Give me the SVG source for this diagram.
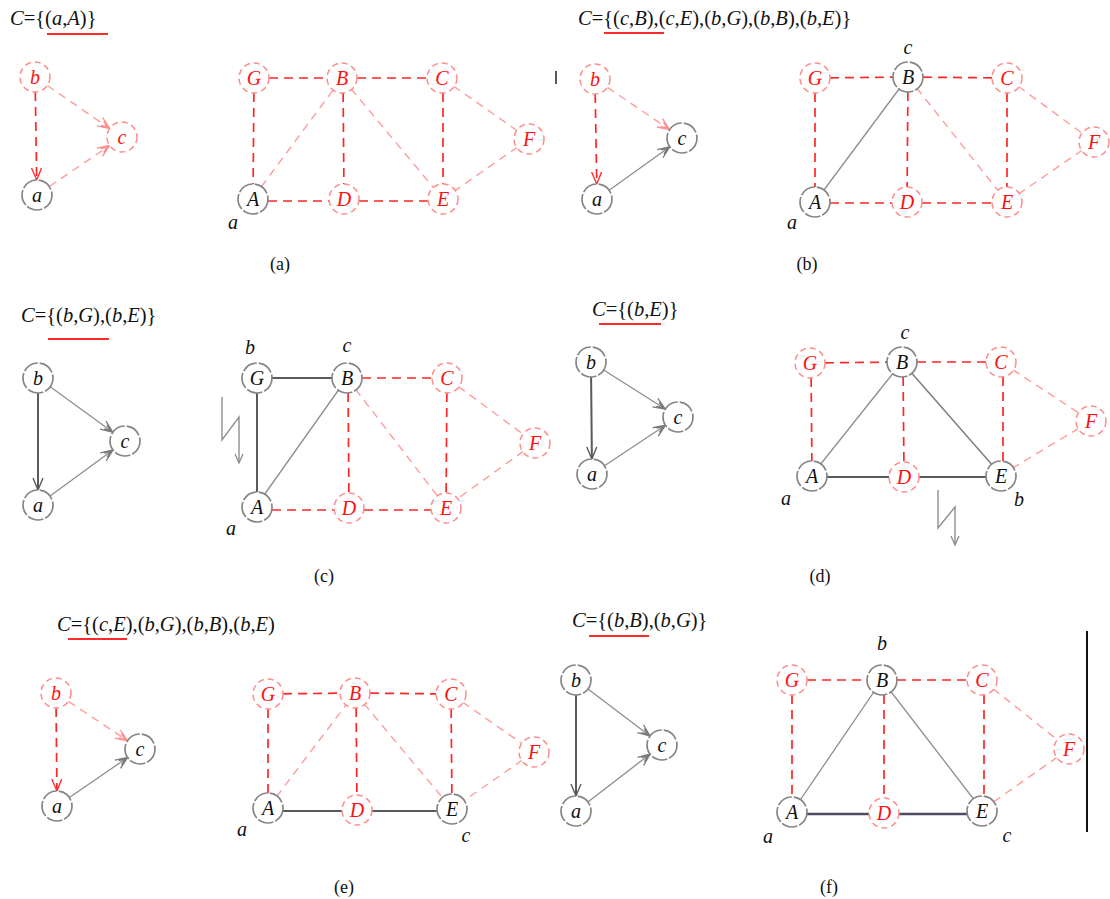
<svg xmlns="http://www.w3.org/2000/svg" width="1110" height="899" viewBox="0 0 1110 899" font-family="'Liberation Serif', 'Times New Roman', serif">
<defs>
<style>
text{font-family:"Liberation Serif","Times New Roman",serif;}
.t{font-size:20.5px;fill:#111;}
.i{font-style:italic;}
.cap{font-size:18px;fill:#111;text-anchor:middle;}
.lb{font-size:20px;font-style:italic;fill:#111;text-anchor:middle;}
.nk circle{fill:#fff;stroke:#858585;stroke-width:1.7;stroke-dasharray:16 2;}
.nk text{font-size:20px;font-style:italic;fill:#111;text-anchor:middle;}
.nr circle{fill:#fff;stroke:#ff8c8c;stroke-width:1.5;stroke-dasharray:6 4;}
.nr text{font-size:20px;font-style:italic;fill:#ff1010;text-anchor:middle;}
.ul{stroke:#ff2a2a;stroke-width:2;}
.er{stroke:#ff2626;stroke-width:1.7;stroke-dasharray:9 6;fill:none;}
.ep{stroke:#ff9c9c;stroke-width:1.4;stroke-dasharray:8 6;fill:none;}
.eg{stroke:#8e8e8e;stroke-width:1.3;fill:none;}
.ed{stroke:#5a5a5a;stroke-width:2;fill:none;}
.en{stroke:#4c4c62;stroke-width:2.6;fill:none;}
.zig{stroke:#8e8e8e;stroke-width:1.4;fill:none;}
</style>
<marker id="mg" markerUnits="userSpaceOnUse" markerWidth="16" markerHeight="12" refX="13" refY="6" orient="auto" overflow="visible">
<path d="M1,1 L13,6 L1,11 M4,3.5 L10,6 L4,8.5" fill="none" stroke="#7a7a7a" stroke-width="1.3"/>
</marker>
<marker id="mz" markerUnits="userSpaceOnUse" markerWidth="12" markerHeight="10" refX="10" refY="5" orient="auto" overflow="visible">
<path d="M1,1 L10,5 L1,9" fill="none" stroke="#8a8a8a" stroke-width="1.3"/>
</marker>
<marker id="md" markerUnits="userSpaceOnUse" markerWidth="16" markerHeight="12" refX="13" refY="6" orient="auto" overflow="visible">
<path d="M1,1 L13,6 L1,11" fill="none" stroke="#5a5a5a" stroke-width="1.4"/>
</marker>
<marker id="mr" markerUnits="userSpaceOnUse" markerWidth="16" markerHeight="12" refX="13" refY="6" orient="auto" overflow="visible">
<path d="M1,1 L13,6 L1,11" fill="none" stroke="#ff3030" stroke-width="1.4"/>
</marker>
<marker id="mp" markerUnits="userSpaceOnUse" markerWidth="16" markerHeight="12" refX="13" refY="6" orient="auto" overflow="visible">
<path d="M1,1 L13,6 L1,11 M4,3.5 L10,6 L4,8.5" fill="none" stroke="#ff8f8f" stroke-width="1.3"/>
</marker>
</defs>
<rect width="1110" height="899" fill="#fff"/>

<!-- Titles -->
<g id="titles">
<text class="t" x="10" y="25"><tspan class="i">C</tspan>={(<tspan class="i">a</tspan>,<tspan class="i">A</tspan>)}</text>
<text class="t" x="578" y="25"><tspan class="i">C</tspan>={(<tspan class="i">c</tspan>,<tspan class="i">B</tspan>),(<tspan class="i">c</tspan>,<tspan class="i">E</tspan>),(<tspan class="i">b</tspan>,<tspan class="i">G</tspan>),(<tspan class="i">b</tspan>,<tspan class="i">B</tspan>),(<tspan class="i">b</tspan>,<tspan class="i">E</tspan>)}</text>
<text class="t" x="21" y="322"><tspan class="i">C</tspan>={(<tspan class="i">b</tspan>,<tspan class="i">G</tspan>),(<tspan class="i">b</tspan>,<tspan class="i">E</tspan>)}</text>
<text class="t" x="592" y="316"><tspan class="i">C</tspan>={(<tspan class="i">b</tspan>,<tspan class="i">E</tspan>)}</text>
<text class="t" x="57" y="631"><tspan class="i">C</tspan>={(<tspan class="i">c</tspan>,<tspan class="i">E</tspan>),(<tspan class="i">b</tspan>,<tspan class="i">G</tspan>),(<tspan class="i">b</tspan>,<tspan class="i">B</tspan>),(<tspan class="i">b</tspan>,<tspan class="i">E</tspan>)</text>
<text class="t" x="572" y="627"><tspan class="i">C</tspan>={(<tspan class="i">b</tspan>,<tspan class="i">B</tspan>),(<tspan class="i">b</tspan>,<tspan class="i">G</tspan>)}</text>
<line class="ul" x1="47" y1="34" x2="108" y2="34"/>
<line class="ul" x1="604" y1="33" x2="664" y2="33"/>
<line class="ul" x1="48" y1="339" x2="109" y2="339"/>
<line class="ul" x1="599" y1="324" x2="661" y2="324"/>
<line class="ul" x1="68" y1="639" x2="127" y2="639"/>
<line class="ul" x1="589" y1="636" x2="649" y2="636"/>
</g>

<!-- Connectors -->
<g id="connectors">
<!-- (a) left -->
<line class="er" x1="35.3" y1="92" x2="36.7" y2="180" marker-end="url(#mr)"/>
<line class="ep" x1="47.3" y1="85.5" x2="109.7" y2="128.5" marker-end="url(#mp)"/>
<line class="ep" x1="49.4" y1="186.5" x2="109.6" y2="145.5" marker-end="url(#mp)"/>
<!-- (a) right -->
<line class="er" x1="254" y1="78" x2="342" y2="78"/>
<line class="er" x1="342" y1="78" x2="442" y2="78"/>
<line class="er" x1="254" y1="78" x2="253" y2="198"/>
<line class="er" x1="343" y1="78" x2="344" y2="198"/>
<line class="er" x1="443" y1="78" x2="443" y2="199"/>
<line class="er" x1="253" y1="201" x2="344" y2="201"/>
<line class="er" x1="344" y1="201" x2="443" y2="201"/>
<line class="ep" x1="253" y1="198" x2="342" y2="78"/>
<line class="ep" x1="342" y1="78" x2="443" y2="199"/>
<line class="ep" x1="442" y1="78" x2="529" y2="139"/>
<line class="ep" x1="529" y1="139" x2="443" y2="199"/>
<!-- (b) left -->
<line class="er" x1="595.2" y1="94" x2="596.8" y2="184" marker-end="url(#mr)"/>
<line class="ep" x1="607.4" y1="87.4" x2="669.6" y2="129.6" marker-end="url(#mp)"/>
<line class="eg" x1="609.2" y1="190.3" x2="669.8" y2="146.7" marker-end="url(#mg)"/>
<!-- (b) right -->
<line class="er" x1="815" y1="78" x2="908" y2="77"/>
<line class="er" x1="908" y1="77" x2="1007" y2="78"/>
<line class="er" x1="815" y1="78" x2="815" y2="202"/>
<line class="er" x1="908" y1="77" x2="907" y2="202"/>
<line class="er" x1="1007" y1="78" x2="1007" y2="202"/>
<line class="er" x1="815" y1="203" x2="907" y2="203"/>
<line class="er" x1="907" y1="203" x2="1007" y2="203"/>
<line class="eg" x1="815" y1="202" x2="908" y2="77"/>
<line class="ep" x1="908" y1="77" x2="1007" y2="202"/>
<line class="ep" x1="1007" y1="78" x2="1094" y2="142"/>
<line class="ep" x1="1094" y1="142" x2="1007" y2="202"/>
<!-- (c) left -->
<line class="ed" x1="38" y1="393" x2="38" y2="490" marker-end="url(#md)"/>
<line class="eg" x1="50.2" y1="386.8" x2="112.8" y2="432.2" marker-end="url(#mg)"/>
<line class="eg" x1="50.1" y1="496.1" x2="112.9" y2="449.9" marker-end="url(#mg)"/>
<!-- (c) right -->
<line class="ed" x1="257" y1="378" x2="347" y2="378"/>
<line class="ed" x1="257" y1="378" x2="257" y2="505"/>
<line class="eg" x1="257" y1="505" x2="347" y2="378"/>
<line class="er" x1="347" y1="378" x2="447" y2="378"/>
<line class="er" x1="348" y1="378" x2="349" y2="507"/>
<line class="er" x1="447" y1="378" x2="446" y2="507"/>
<line class="er" x1="257" y1="510" x2="349" y2="510"/>
<line class="er" x1="349" y1="510" x2="446" y2="510"/>
<line class="ep" x1="347" y1="378" x2="446" y2="507"/>
<line class="ep" x1="447" y1="378" x2="535" y2="443"/>
<line class="ep" x1="535" y1="443" x2="446" y2="507"/>
<polyline class="zig" points="222,397 222,440 239,417 239,463" marker-end="url(#mz)"/>
<!-- (d) left -->
<line class="ed" x1="591.1" y1="377" x2="591.9" y2="459" marker-end="url(#md)"/>
<line class="eg" x1="603.7" y1="370" x2="665.3" y2="409" marker-end="url(#mg)"/>
<line class="eg" x1="604.5" y1="465.7" x2="665.5" y2="425.3" marker-end="url(#mg)"/>
<!-- (d) right -->
<line class="er" x1="810" y1="363" x2="902" y2="362"/>
<line class="er" x1="902" y1="362" x2="1001" y2="362"/>
<line class="er" x1="811" y1="363" x2="812" y2="475"/>
<line class="er" x1="903" y1="362" x2="904" y2="476"/>
<line class="er" x1="1003" y1="362" x2="1003" y2="475"/>
<line class="eg" x1="812" y1="475" x2="902" y2="362"/>
<line class="eg" x1="902" y1="362" x2="1001" y2="475" style="stroke:#7e7e7e;stroke-width:1.5"/>
<line class="ed" x1="812" y1="477" x2="904" y2="477"/>
<line class="ed" x1="904" y1="477" x2="1001" y2="477"/>
<line class="ep" x1="1001" y1="362" x2="1091" y2="421"/>
<line class="ep" x1="1091" y1="421" x2="1001" y2="475"/>
<polyline class="zig" points="938,490 938,528 955,507 955,545" marker-end="url(#mz)"/>
<!-- (e) left -->
<line class="er" x1="56.1" y1="708" x2="56.9" y2="791" marker-end="url(#mr)"/>
<line class="ep" x1="68.5" y1="701.3" x2="127.5" y2="740.7" marker-end="url(#mp)"/>
<line class="eg" x1="69.4" y1="797.5" x2="127.6" y2="757.5" marker-end="url(#mg)"/>
<!-- (e) right -->
<line class="er" x1="268" y1="694" x2="355" y2="693"/>
<line class="er" x1="355" y1="693" x2="451" y2="694"/>
<line class="er" x1="268" y1="694" x2="268" y2="808"/>
<line class="er" x1="356" y1="693" x2="357" y2="809"/>
<line class="er" x1="451" y1="694" x2="452" y2="809"/>
<line class="ep" x1="268" y1="808" x2="355" y2="693"/>
<line class="ep" x1="355" y1="693" x2="452" y2="809"/>
<line class="ep" x1="451" y1="694" x2="534" y2="752"/>
<line class="ep" x1="534" y1="752" x2="452" y2="809"/>
<line class="ed" x1="268" y1="811" x2="357" y2="811"/>
<line class="ed" x1="357" y1="811" x2="452" y2="811"/>
<!-- (f) left -->
<line class="ed" x1="576" y1="695" x2="576" y2="796" marker-end="url(#md)"/>
<line class="eg" x1="588" y1="689" x2="650" y2="736" marker-end="url(#mg)"/>
<line class="eg" x1="587.9" y1="801.9" x2="650.1" y2="754.1" marker-end="url(#mg)"/>
<!-- (f) right -->
<line class="er" x1="792" y1="680" x2="882" y2="680"/>
<line class="er" x1="882" y1="680" x2="982" y2="680"/>
<line class="er" x1="792" y1="680" x2="792" y2="812"/>
<line class="er" x1="884" y1="680" x2="884" y2="812"/>
<line class="er" x1="984" y1="680" x2="984" y2="810"/>
<line class="eg" x1="792" y1="812" x2="882" y2="680"/>
<line class="eg" x1="882" y1="680" x2="982" y2="810"/>
<line class="en" x1="792" y1="814" x2="884" y2="814"/>
<line class="en" x1="884" y1="814" x2="982" y2="814"/>
<line class="ep" x1="982" y1="680" x2="1069" y2="749"/>
<line class="ep" x1="1069" y1="749" x2="982" y2="810"/>
</g>

<!-- Panel (a) nodes -->
<g id="a-l-b" class="nr"><circle cx="35" cy="77" r="15"/><text x="35" y="84">b</text></g>
<g id="a-l-c" class="nr"><circle cx="122" cy="137" r="15"/><text x="122" y="144">c</text></g>
<g id="a-l-a" class="nk"><circle cx="37" cy="195" r="15"/><text x="37" y="202">a</text></g>
<g id="a-G" class="nr"><circle cx="254" cy="78" r="15"/><text x="254" y="85">G</text></g>
<g id="a-B" class="nr"><circle cx="342" cy="78" r="15"/><text x="342" y="85">B</text></g>
<g id="a-C" class="nr"><circle cx="442" cy="78" r="15"/><text x="442" y="85">C</text></g>
<g id="a-F" class="nr"><circle cx="529" cy="139" r="15"/><text x="529" y="146">F</text></g>
<g id="a-A" class="nk"><circle cx="253" cy="199" r="15"/><text x="253" y="206">A</text></g>
<g id="a-D" class="nr"><circle cx="344" cy="199" r="15"/><text x="344" y="206">D</text></g>
<g id="a-E" class="nr"><circle cx="443" cy="199" r="15"/><text x="443" y="206">E</text></g>
<text class="lb" x="233" y="229">a</text>
<text class="cap" x="280" y="270">(a)</text>
<line x1="556" y1="71" x2="556" y2="84" stroke="#222" stroke-width="1.5"/>

<!-- Panel (b) nodes -->
<g id="b-l-b" class="nr"><circle cx="595" cy="79" r="15"/><text x="595" y="86">b</text></g>
<g id="b-l-c" class="nk"><circle cx="682" cy="138" r="15"/><text x="682" y="145">c</text></g>
<g id="b-l-a" class="nk"><circle cx="597" cy="199" r="15"/><text x="597" y="206">a</text></g>
<g id="b-G" class="nr"><circle cx="815" cy="78" r="15"/><text x="815" y="85">G</text></g>
<g id="b-B" class="nk"><circle cx="908" cy="77" r="15"/><text x="908" y="84">B</text></g>
<g id="b-C" class="nr"><circle cx="1007" cy="78" r="15"/><text x="1007" y="85">C</text></g>
<g id="b-F" class="nr"><circle cx="1094" cy="142" r="15"/><text x="1094" y="149">F</text></g>
<g id="b-A" class="nk"><circle cx="815" cy="202" r="15"/><text x="815" y="209">A</text></g>
<g id="b-D" class="nr"><circle cx="907" cy="202" r="15"/><text x="907" y="209">D</text></g>
<g id="b-E" class="nr"><circle cx="1007" cy="202" r="15"/><text x="1007" y="209">E</text></g>
<text class="lb" x="908" y="54">c</text>
<text class="lb" x="792" y="229">a</text>
<text class="cap" x="807" y="270">(b)</text>

<!-- Panel (c) nodes -->
<g id="c-l-b" class="nk"><circle cx="38" cy="378" r="15"/><text x="38" y="385">b</text></g>
<g id="c-l-c" class="nk"><circle cx="125" cy="441" r="15"/><text x="125" y="448">c</text></g>
<g id="c-l-a" class="nk"><circle cx="38" cy="505" r="15"/><text x="38" y="512">a</text></g>
<g id="c-G" class="nk"><circle cx="257" cy="378" r="15"/><text x="257" y="385">G</text></g>
<g id="c-B" class="nk"><circle cx="347" cy="378" r="15"/><text x="347" y="385">B</text></g>
<g id="c-C" class="nr"><circle cx="447" cy="378" r="15"/><text x="447" y="385">C</text></g>
<g id="c-F" class="nr"><circle cx="535" cy="443" r="15"/><text x="535" y="450">F</text></g>
<g id="c-A" class="nk"><circle cx="257" cy="507" r="15"/><text x="257" y="514">A</text></g>
<g id="c-D" class="nr"><circle cx="349" cy="508" r="15"/><text x="349" y="515">D</text></g>
<g id="c-E" class="nr"><circle cx="446" cy="508" r="15"/><text x="446" y="515">E</text></g>
<text class="lb" x="250" y="354">b</text>
<text class="lb" x="347" y="352">c</text>
<text class="lb" x="231" y="535">a</text>
<text class="cap" x="324" y="582">(c)</text>

<!-- Panel (d) nodes -->
<g id="d-l-b" class="nk"><circle cx="591" cy="362" r="15"/><text x="591" y="369">b</text></g>
<g id="d-l-c" class="nk"><circle cx="678" cy="417" r="15"/><text x="678" y="424">c</text></g>
<g id="d-l-a" class="nk"><circle cx="592" cy="474" r="15"/><text x="592" y="481">a</text></g>
<g id="d-G" class="nr"><circle cx="810" cy="363" r="15"/><text x="810" y="370">G</text></g>
<g id="d-B" class="nk"><circle cx="902" cy="362" r="15"/><text x="902" y="369">B</text></g>
<g id="d-C" class="nr"><circle cx="1001" cy="362" r="15"/><text x="1001" y="369">C</text></g>
<g id="d-F" class="nr"><circle cx="1091" cy="421" r="15"/><text x="1091" y="428">F</text></g>
<g id="d-A" class="nk"><circle cx="812" cy="476" r="15"/><text x="812" y="483">A</text></g>
<g id="d-D" class="nr"><circle cx="904" cy="477" r="15"/><text x="904" y="484">D</text></g>
<g id="d-E" class="nk"><circle cx="1001" cy="476" r="15"/><text x="1001" y="483">E</text></g>
<text class="lb" x="905" y="339">c</text>
<text class="lb" x="786" y="505">a</text>
<text class="lb" x="1019" y="506">b</text>
<text class="cap" x="820" y="582">(d)</text>

<!-- Panel (e) nodes -->
<g id="e-l-b" class="nr"><circle cx="56" cy="693" r="15"/><text x="56" y="700">b</text></g>
<g id="e-l-c" class="nk"><circle cx="140" cy="749" r="15"/><text x="140" y="756">c</text></g>
<g id="e-l-a" class="nk"><circle cx="57" cy="806" r="15"/><text x="57" y="813">a</text></g>
<g id="e-G" class="nr"><circle cx="268" cy="694" r="15"/><text x="268" y="701">G</text></g>
<g id="e-B" class="nr"><circle cx="355" cy="693" r="15"/><text x="355" y="700">B</text></g>
<g id="e-C" class="nr"><circle cx="451" cy="694" r="15"/><text x="451" y="701">C</text></g>
<g id="e-F" class="nr"><circle cx="534" cy="752" r="15"/><text x="534" y="759">F</text></g>
<g id="e-A" class="nk"><circle cx="268" cy="808" r="15"/><text x="268" y="815">A</text></g>
<g id="e-D" class="nr"><circle cx="357" cy="810" r="15"/><text x="357" y="817">D</text></g>
<g id="e-E" class="nk"><circle cx="452" cy="809" r="15"/><text x="452" y="816">E</text></g>
<text class="lb" x="242" y="836">a</text>
<text class="lb" x="466" y="842">c</text>
<text class="cap" x="344" y="893">(e)</text>

<!-- Panel (f) nodes -->
<g id="f-l-b" class="nk"><circle cx="576" cy="680" r="15"/><text x="576" y="687">b</text></g>
<g id="f-l-c" class="nk"><circle cx="662" cy="745" r="15"/><text x="662" y="752">c</text></g>
<g id="f-l-a" class="nk"><circle cx="576" cy="811" r="15"/><text x="576" y="818">a</text></g>
<g id="f-G" class="nr"><circle cx="792" cy="680" r="15"/><text x="792" y="687">G</text></g>
<g id="f-B" class="nk"><circle cx="882" cy="680" r="15"/><text x="882" y="687">B</text></g>
<g id="f-C" class="nr"><circle cx="982" cy="680" r="15"/><text x="982" y="687">C</text></g>
<g id="f-F" class="nr"><circle cx="1069" cy="749" r="15"/><text x="1069" y="756">F</text></g>
<g id="f-A" class="nk"><circle cx="792" cy="812" r="15"/><text x="792" y="819">A</text></g>
<g id="f-D" class="nr"><circle cx="884" cy="813" r="15"/><text x="884" y="820">D</text></g>
<g id="f-E" class="nk"><circle cx="982" cy="811" r="15"/><text x="982" y="818">E</text></g>
<text class="lb" x="882" y="650">b</text>
<text class="lb" x="768" y="843">a</text>
<text class="lb" x="1007" y="842">c</text>
<text class="cap" x="829" y="893">(f)</text>
<line x1="1087" y1="631" x2="1087" y2="832" stroke="#111" stroke-width="2"/>
</svg>
